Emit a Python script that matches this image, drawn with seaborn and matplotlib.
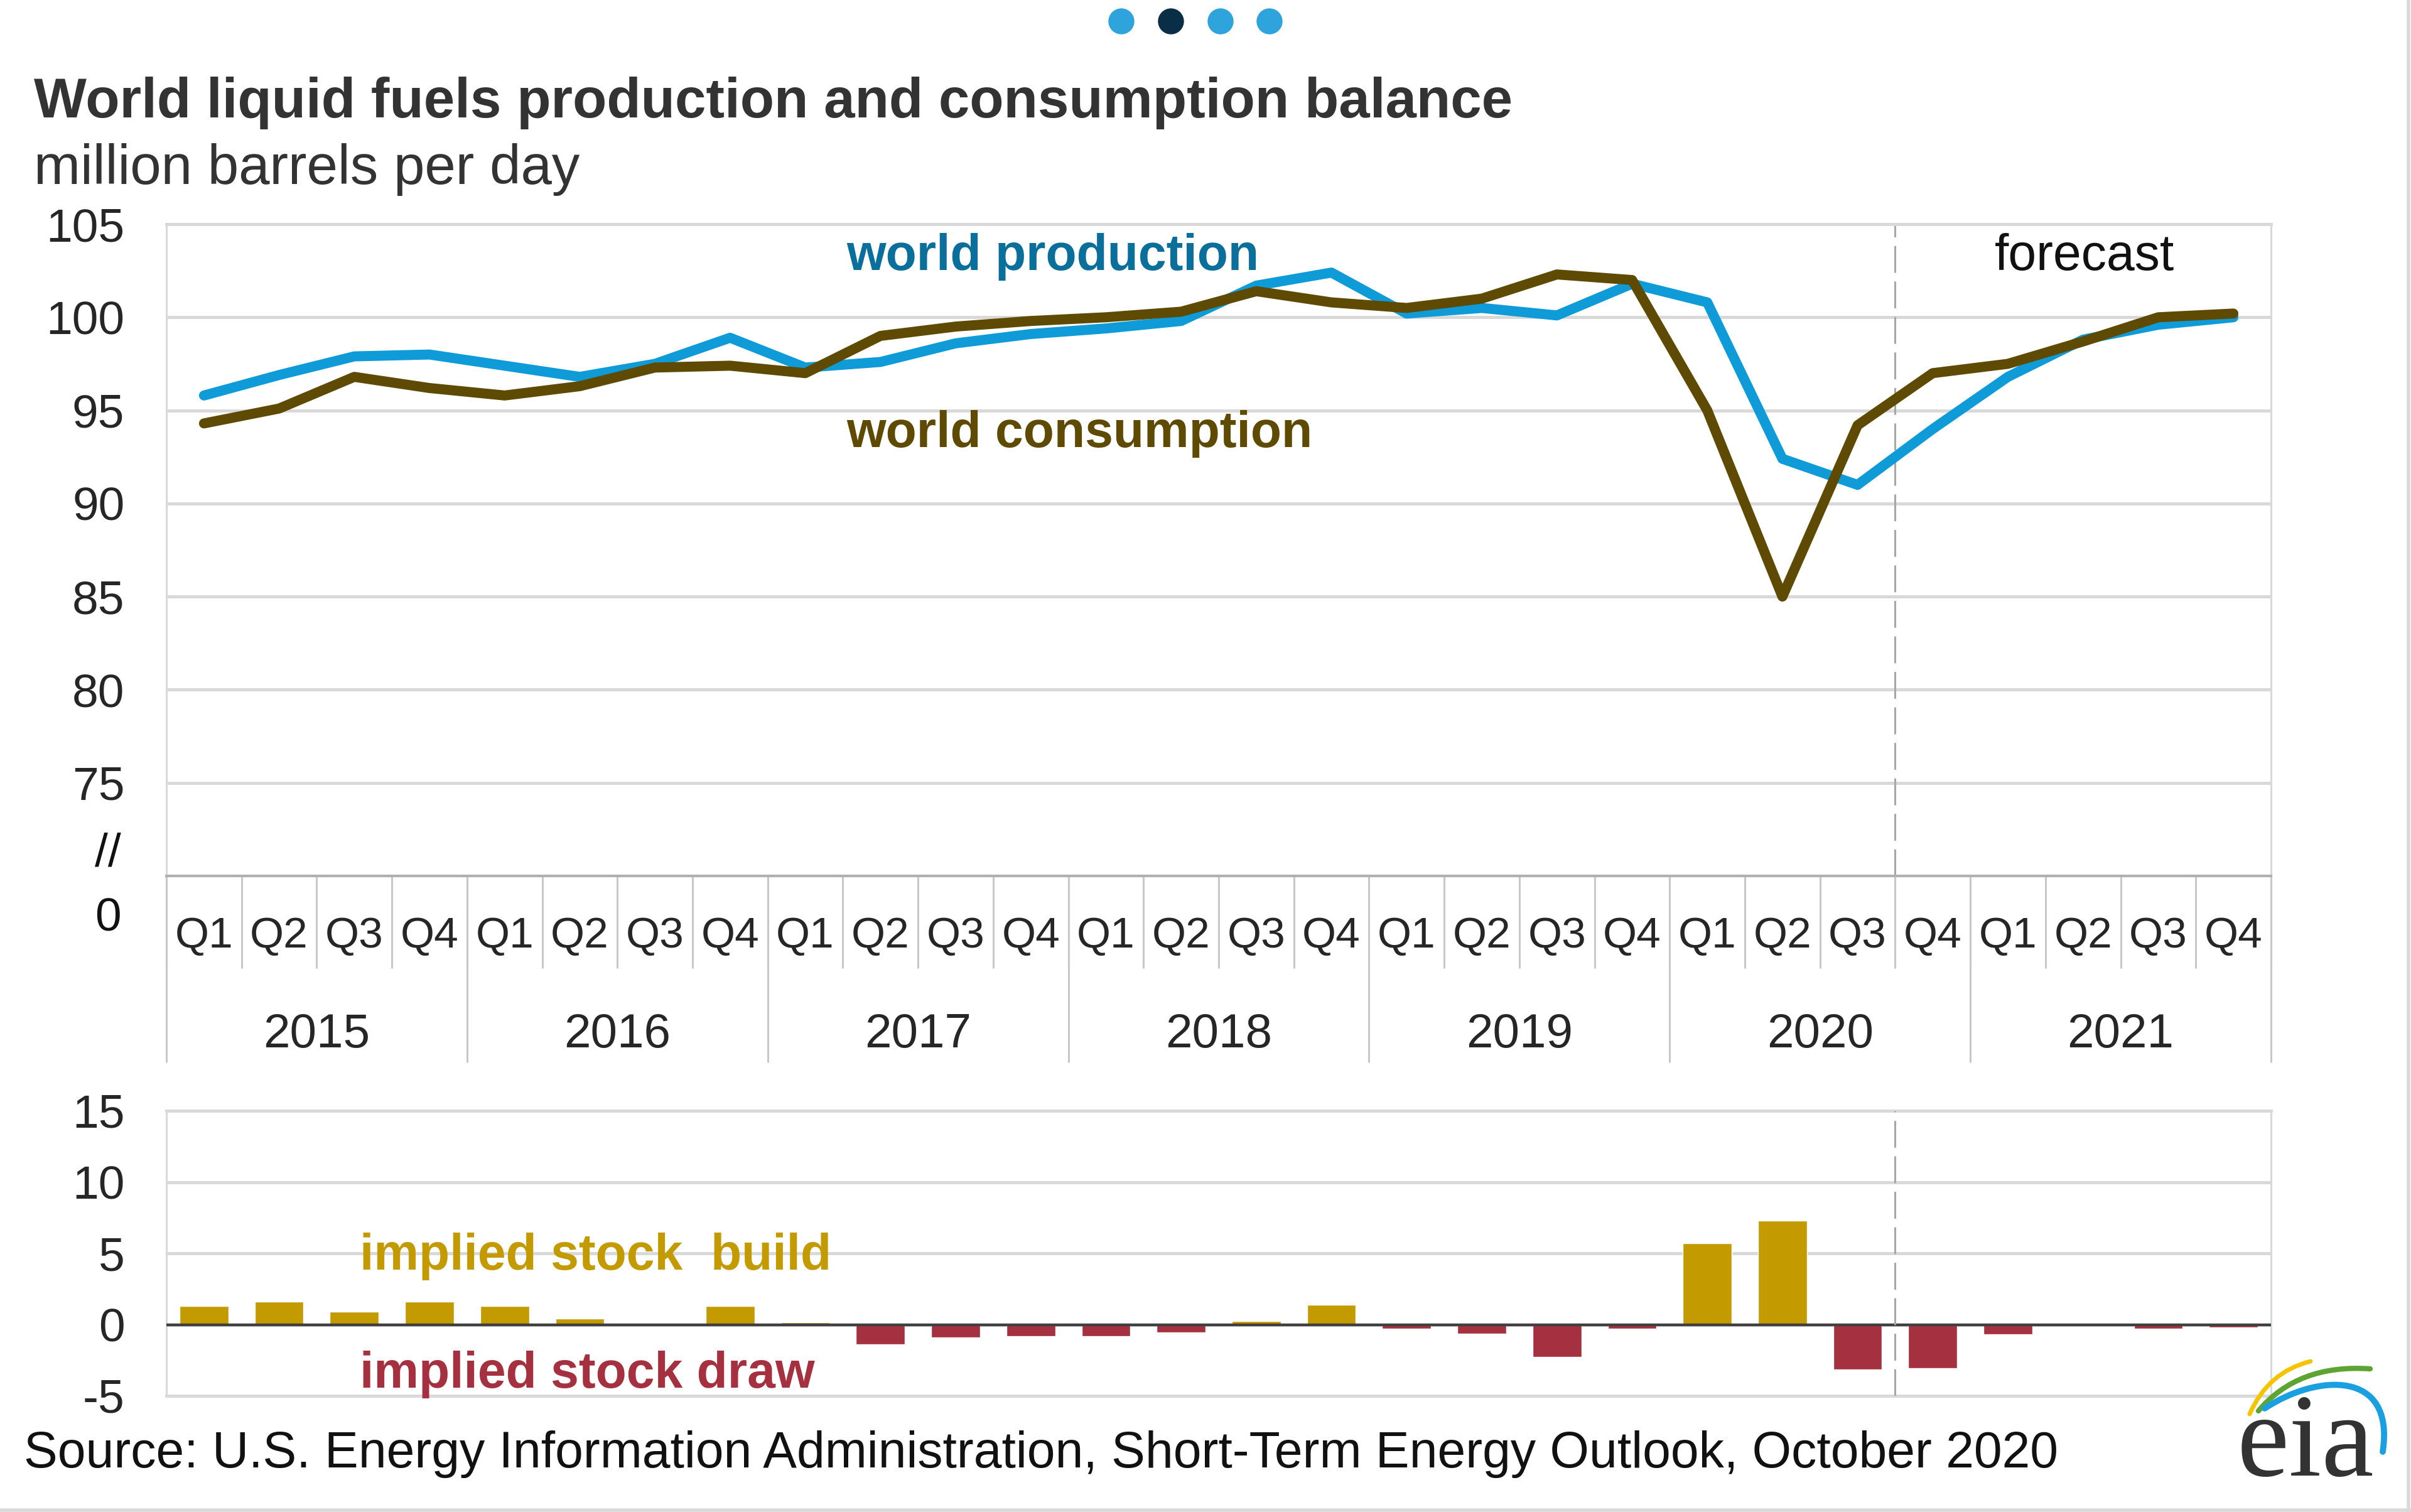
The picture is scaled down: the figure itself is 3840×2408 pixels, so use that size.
import numpy as np
import pandas as pd
import matplotlib
matplotlib.use("Agg")
import matplotlib.pyplot as plt
import seaborn as sns
from matplotlib.patches import Ellipse, PathPatch
from matplotlib.path import Path
from matplotlib.lines import Line2D

# ---------------- data ----------------
quarters = ["Q1", "Q2", "Q3", "Q4"] * 7
years = ["2015", "2016", "2017", "2018", "2019", "2020", "2021"]
production = [95.8, 96.9, 97.9, 98.0, 97.4, 96.8, 97.5, 98.9,
              97.3, 97.6, 98.6, 99.1, 99.4, 99.8, 101.7, 102.4,
              100.2, 100.5, 100.1, 101.8, 100.8, 92.4, 91.0, 94.0,
              96.8, 98.8, 99.6, 100.0]
consumption = [94.3, 95.1, 96.8, 96.2, 95.8, 96.3, 97.3, 97.4,
               97.0, 99.0, 99.5, 99.8, 100.0, 100.3, 101.4, 100.8,
               100.5, 101.0, 102.3, 102.0, 95.0, 85.0, 94.2, 97.0,
               97.5, 98.7, 100.0, 100.2]
balance = [1.3, 1.6, 0.9, 1.6, 1.3, 0.4, 0.0, 1.3,
           0.15, -1.4, -0.9, -0.8, -0.8, -0.55, 0.25, 1.4,
           -0.3, -0.65, -2.25, -0.3, 5.7, 7.3, -3.15, -3.05,
           -0.7, 0.0, -0.3, -0.2]
first_forecast_index = 23  # 2020 Q4
top_yticks = [75, 80, 85, 90, 95, 100, 105]
bottom_yticks = [-5, 0, 5, 10, 15]

# ---------------- style ----------------
sns.set_style("white")
plt.rcParams["font.family"] = ["Liberation Sans", "DejaVu Sans"]
plt.rcParams["axes.unicode_minus"] = False

W, H = 3840, 2408
fig = plt.figure(figsize=(W / 100, H / 100), dpi=100)


def fx(px):
    return px / W


def fy(py):
    return 1 - py / H


C_PROD = "#0f9bd7"
C_PROD_TXT = "#0b6f9b"
C_CONS = "#5e4a02"
C_CONS_TXT = "#5e4a02"
C_BUILD = "#c39a00"
C_DRAW = "#a5303f"
GRID = "#d9d9d9"
SEP = "#c8c8c8"

n = len(quarters)
idx = np.arange(n)

ax1 = fig.add_axes([fx(265), fy(1395), fx(3617) - fx(265), fy(357) - fy(1395)])
ax2 = fig.add_axes([fx(265), fy(2223), fx(3617) - fx(265), fy(1769) - fy(2223)])

# ---------------- top: lines ----------------
df_lines = pd.DataFrame({
    "idx": np.concatenate([idx, idx]),
    "value": production + consumption,
    "series": ["world production"] * n + ["world consumption"] * n,
})
sns.lineplot(data=df_lines, x="idx", y="value", hue="series",
             hue_order=["world production", "world consumption"],
             palette={"world production": C_PROD, "world consumption": C_CONS},
             linewidth=11.5, legend=False, ax=ax1, zorder=3)

ax1.set_xlim(-0.5, n - 0.5)
ax1.set_ylim(70, 105)
ax1.set_yticks(top_yticks)
ax1.set_yticklabels([str(v) for v in top_yticks], fontsize=54)
ax1.set_xlabel("")
ax1.set_ylabel("")
ax1.grid(axis="y", color=GRID, linewidth=3.6)
ax1.grid(axis="x", visible=False)
ax1.set_axisbelow(True)
ax1.tick_params(axis="y", length=0, pad=48)
for s in ["left", "right", "top"]:
    ax1.spines[s].set_color(GRID)
    ax1.spines[s].set_linewidth(2.2)
ax1.spines["top"].set_linewidth(3.6)
ax1.spines["bottom"].set_color("#b0b0b0")
ax1.spines["bottom"].set_linewidth(3)

ax1.set_xticks(idx)
ax1.set_xticklabels(quarters, fontsize=50)
ax1.set_xticks(np.arange(-0.5, n, 1), minor=True)
ax1.tick_params(axis="x", which="major", bottom=True, length=0, pad=46)
ax1.tick_params(axis="x", which="minor", bottom=True, length=106, width=2.2,
                color=SEP)

sec = ax1.secondary_xaxis("bottom")
sec.set_xticks(np.arange(-0.5, n, 4))
sec.set_xticklabels([""] * len(np.arange(-0.5, n, 4)))
sec.set_xticks(np.arange(1.5, n, 4), labels=years, minor=True)
sec.tick_params(which="major", bottom=True, length=214, width=2.2, color=SEP)
sec.tick_params(which="minor", bottom=True, length=0, pad=157, labelsize=55)
sec.spines["bottom"].set_visible(False)

ax1.axvline(first_forecast_index - 0.5, color="#a6a6a6", linewidth=2.2,
            dashes=(14, 4.5), zorder=2)

# ---------------- bottom: bars ----------------
df_bar = pd.DataFrame({
    "idx": idx,
    "balance": balance,
    "kind": ["build" if b >= 0 else "draw" for b in balance],
})
sns.barplot(data=df_bar, x="idx", y="balance", hue="kind",
            hue_order=["build", "draw"],
            palette={"build": C_BUILD, "draw": C_DRAW},
            dodge=False, width=0.65, saturation=1, legend=False, ax=ax2,
            zorder=2)
ax2.set_xlim(-0.5, n - 0.5)
ax2.set_ylim(-5, 15)
ax2.set_yticks(bottom_yticks)
ax2.set_yticklabels([str(v) for v in bottom_yticks], fontsize=54)
ax2.set_xlabel("")
ax2.set_ylabel("")
ax2.grid(axis="y", color=GRID, linewidth=3.6)
ax2.grid(axis="x", visible=False)
ax2.set_axisbelow(True)
ax2.tick_params(axis="y", length=0, pad=48)
ax2.tick_params(axis="x", bottom=False, labelbottom=False)
for s in ["left", "right", "top", "bottom"]:
    ax2.spines[s].set_color(GRID)
    ax2.spines[s].set_linewidth(2.2)
ax2.spines["top"].set_linewidth(3.6)
ax2.spines["bottom"].set_linewidth(3.6)
ax2.axhline(0, color="#404040", linewidth=3.2, zorder=4)
ax2.axvline(first_forecast_index - 0.5, color="#a6a6a6", linewidth=2.2,
            dashes=(14, 4.5), zorder=5)

# ---------------- texts ----------------
fig.text(fx(54), fy(187), "World liquid fuels production and consumption balance",
         fontsize=64, fontweight="bold", color="#333333", va="baseline", ha="left")
fig.text(fx(54), fy(293), "million barrels per day",
         fontsize=64, color="#333333", va="baseline", ha="left")

fig.text(fx(1348), fy(430), "world production", fontsize=58, fontweight="bold",
         color=C_PROD_TXT, va="baseline", ha="left")
fig.text(fx(1348), fy(712), "world consumption", fontsize=58, fontweight="bold",
         color=C_CONS_TXT, va="baseline", ha="left")
fig.text(fx(3177), fy(430), "forecast", fontsize=58, color="#111111",
         va="baseline", ha="left")
fig.text(fx(573), fy(2022), "implied stock  build", fontsize=58,
         fontweight="bold", color=C_BUILD, va="baseline", ha="left")
fig.text(fx(573), fy(2210), "implied stock draw", fontsize=58,
         fontweight="bold", color=C_DRAW, va="baseline", ha="left")

fig.text(fx(172), fy(1360), "//", fontsize=54, color="#111111",
         va="center", ha="center")
fig.text(fx(172), fy(1463), "0", fontsize=54, color="#111111",
         va="center", ha="center")

fig.text(fx(38), fy(2337),
         "Source: U.S. Energy Information Administration, Short-Term Energy Outlook, October 2020",
         fontsize=58, color="#111111", va="baseline", ha="left")

# ---------------- decorations ----------------
for x, c in zip([1786, 1865, 1944, 2022], ["#2ea3dc", "#0b2e47", "#2ea3dc", "#2ea3dc"]):
    fig.add_artist(Ellipse((fx(x), fy(34)), width=40 / W, height=40 / H,
                           transform=fig.transFigure, color=c))


def bez(points, codes, color, lw):
    verts = [(fx(x), fy(y)) for x, y in points]
    fig.add_artist(PathPatch(Path(verts, codes), transform=fig.transFigure,
                             fill=False, edgecolor=color, linewidth=lw,
                             capstyle="round"))


bez([(3583, 2252), (3612, 2185), (3680, 2168)],
    [Path.MOVETO, Path.CURVE3, Path.CURVE3], "#f5c400", 5)
bez([(3597, 2247), (3660, 2172), (3775, 2180)],
    [Path.MOVETO, Path.CURVE3, Path.CURVE3], "#5da532", 6)
bez([(3607, 2243), (3690, 2188), (3815, 2180), (3795, 2312)],
    [Path.MOVETO, Path.CURVE4, Path.CURVE4, Path.CURVE4], "#1aa0e0", 7)
fig.text(fx(3563), fy(2350), "eia", family=["Liberation Serif", "DejaVu Serif"],
         fontsize=135, color="#333333", va="baseline", ha="left")

fig.add_artist(Line2D([fx(3836), fx(3836)], [0, 1], transform=fig.transFigure,
                      color="#d9d9d9", linewidth=4))
fig.add_artist(Line2D([0, 1], [fy(2405), fy(2405)], transform=fig.transFigure,
                      color="#d9d9d9", linewidth=4))

fig.savefig("out.png", dpi=100)
